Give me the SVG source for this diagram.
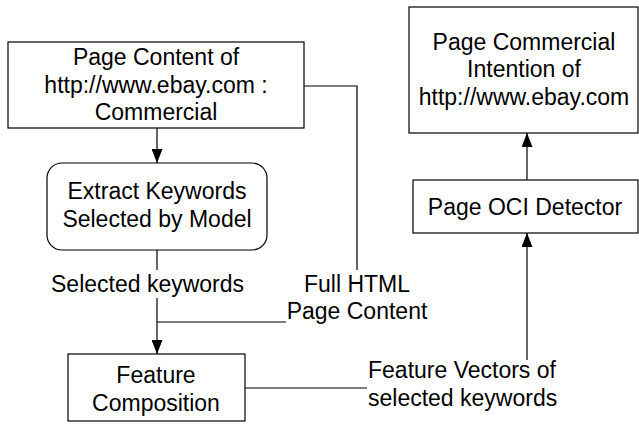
<svg xmlns="http://www.w3.org/2000/svg" width="639" height="424" viewBox="0 0 639 424">
<style>
.box{fill:#fff;stroke:#000;stroke-width:1.2}
.ln{fill:none;stroke:#000;stroke-width:1.2}
text{font-family:"Liberation Sans",Arial,sans-serif;font-size:23px;fill:#000}
.c{text-anchor:middle}
</style>
<defs>
<marker id="ah" viewBox="0 0 14 11" refX="14" refY="5.5" markerWidth="14" markerHeight="11" markerUnits="userSpaceOnUse" orient="auto">
<path d="M0,0 L14,5.5 L0,11 Z" fill="#000"/>
</marker>
</defs>
<rect width="639" height="424" fill="#fff"/>
<g id="connectors">
<line class="ln" x1="157" y1="128" x2="157" y2="163" marker-end="url(#ah)"/>
<polyline class="ln" points="304,86 357,86 357,270"/>
<line class="ln" x1="157" y1="250" x2="157" y2="270"/>
<line class="ln" x1="157" y1="298" x2="157" y2="354" marker-end="url(#ah)"/>
<line class="ln" x1="157" y1="322" x2="286" y2="322"/>
<line class="ln" x1="245" y1="388" x2="367" y2="388"/>
<line class="ln" x1="527" y1="360" x2="527" y2="233" marker-end="url(#ah)"/>
<line class="ln" x1="527" y1="180" x2="527" y2="133" marker-end="url(#ah)"/>
<text x="51" y="292">Selected keywords</text>
<text class="c" x="357" y="292">Full HTML</text>
<text class="c" x="357" y="319">Page Content</text>
<text x="368" y="378">Feature Vectors of</text>
<text x="368" y="406">selected keywords</text>
</g>
<g id="page-content">
<rect class="box" x="8" y="42" width="296" height="86"/>
<text class="c" x="156" y="65">Page Content of</text>
<text class="c" x="156" y="93">http://www.ebay.com :</text>
<text class="c" x="156" y="120">Commercial</text>
</g>
<g id="extract">
<rect class="box" x="47" y="163" width="220" height="87" rx="15" ry="15"/>
<text class="c" x="157" y="199">Extract Keywords</text>
<text class="c" x="157" y="227">Selected by Model</text>
</g>
<g id="feature-composition">
<rect class="box" x="68" y="354" width="177" height="67"/>
<text class="c" x="156" y="383">Feature</text>
<text class="c" x="156" y="411">Composition</text>
</g>
<g id="intention">
<rect class="box" x="409" y="7" width="229" height="126"/>
<text class="c" x="524" y="50">Page Commercial</text>
<text class="c" x="524" y="77">Intention of</text>
<text class="c" x="524" y="105">http://www.ebay.com</text>
</g>
<g id="oci">
<rect class="box" x="413" y="180" width="225" height="53"/>
<text class="c" x="525" y="215">Page OCI Detector</text>
</g>
</svg>
